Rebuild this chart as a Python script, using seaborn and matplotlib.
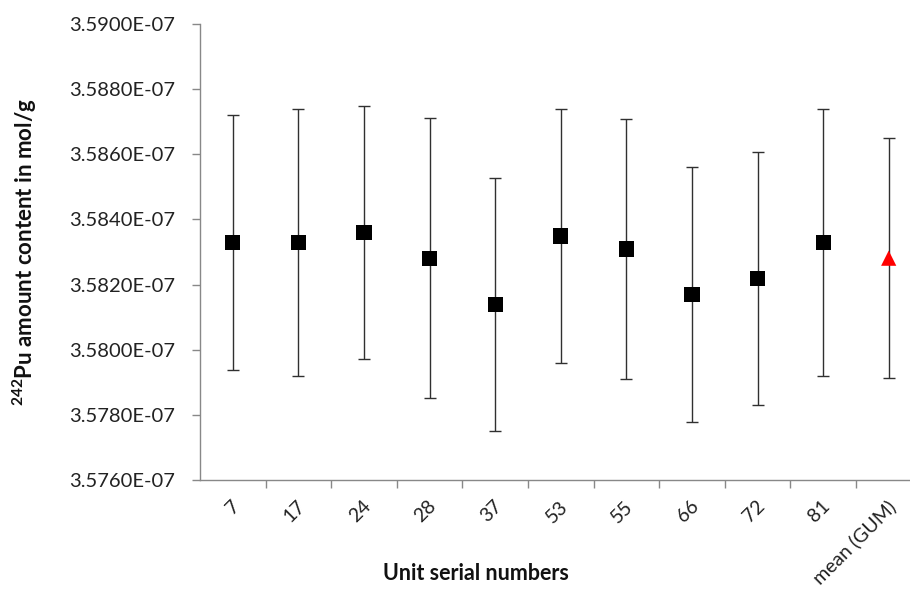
import matplotlib
matplotlib.use("Agg")
import matplotlib.pyplot as plt
import matplotlib.transforms as mtransforms
from matplotlib.ticker import FuncFormatter, FixedLocator
import numpy as np
import pandas as pd
import seaborn as sns

# ---- data (values in units of 1e-7 mol/g) ----
units = ['7', '17', '24', '28', '37', '53', '55', '66', '72', '81', 'mean (GUM)']
values_e7 = [3.58330, 3.58330, 3.58360, 3.58281, 3.58139, 3.58349,
             3.58309, 3.58170, 3.58219, 3.58330, 3.58281]
uncert_e7 = [0.00391, 0.00410, 0.00389, 0.00429, 0.00389, 0.00390,
             0.00400, 0.00391, 0.00389, 0.00410, 0.00369]
kinds = ['unit'] * 10 + ['mean']
ytick_vals_e7 = [3.5760, 3.5780, 3.5800, 3.5820, 3.5840, 3.5860, 3.5880, 3.5900]

df = pd.DataFrame({
    'unit': units,
    'value': np.array(values_e7) * 1e-7,
    'err': np.array(uncert_e7) * 1e-7,
    'kind': kinds,
})

sns.set_theme(style='white')
plt.rcParams['font.family'] = ['Lato', 'DejaVu Sans']
plt.rcParams['mathtext.fontset'] = 'custom'
plt.rcParams['mathtext.rm'] = 'Lato'

fig = plt.figure(figsize=(9.10, 5.93), dpi=100)
ax = fig.add_axes([200 / 910, 1 - 480 / 593, 721.5 / 910, 456 / 593])

pos = np.arange(len(units))
ax.errorbar(pos, df['value'], yerr=df['err'], fmt='none', ecolor='#303030',
            elinewidth=1.0, capsize=4, capthick=1.0, zorder=2)

sns.scatterplot(data=df, x='unit', y='value', hue='kind', style='kind',
                markers={'unit': 's', 'mean': '^'},
                palette={'unit': 'black', 'mean': '#ff0000'},
                s=120, linewidth=0, legend=False, ax=ax, zorder=3)

ax.set_xlim(-0.5, len(units) - 0.5)
ax.set_ylim(ytick_vals_e7[0] * 1e-7, ytick_vals_e7[-1] * 1e-7)
ax.yaxis.set_major_locator(FixedLocator([v * 1e-7 for v in ytick_vals_e7]))
ax.yaxis.set_major_formatter(FuncFormatter(lambda v, p: f"{v:.4E}"))

# x ticks: labels at centres, tick marks at boundaries
ax.set_xticks(pos)
ax.set_xticklabels(units)
ax.set_xticks(np.arange(len(units)) + 0.5, minor=True)
ax.tick_params(axis='x', which='major', length=0, pad=17, labelsize=14,
               labelcolor='#222222')
ax.tick_params(axis='x', which='minor', length=6, width=1, color='#888888',
               direction='out', bottom=True)
ax.tick_params(axis='y', which='major', length=6, width=1, color='#888888',
               direction='out', left=True, pad=12, labelsize=14.5,
               labelcolor='#222222')
offset = mtransforms.ScaledTranslation(4 / 100, 0, fig.dpi_scale_trans)
for lab in ax.get_xticklabels():
    lab.set_rotation(45)
    lab.set_ha('right')
    lab.set_va('center')
    lab.set_rotation_mode('anchor')
    lab.set_transform(lab.get_transform() + offset)

for s in ['top', 'right']:
    ax.spines[s].set_visible(False)
for s in ['left', 'bottom']:
    ax.spines[s].set_color('#888888')
    ax.spines[s].set_linewidth(1)

ax.set_xlabel('')
ax.set_ylabel('')
fig.text(25 / 910, 1 - 252 / 593,
         r'$\mathregular{^{242}}$Pu amount content in mol/g',
         rotation=90, ha='center', va='center', fontsize=16,
         fontweight='bold', color='#111111')
fig.text(476 / 910, 1 - 573 / 593, 'Unit serial numbers', ha='center',
         va='center', fontsize=15.5, fontweight='bold', color='#111111')

fig.savefig('out.png', dpi=100)
